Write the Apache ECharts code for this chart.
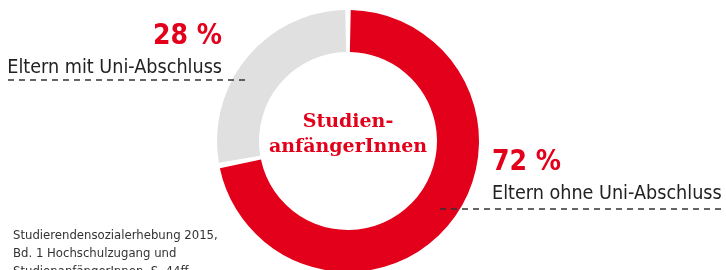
<!DOCTYPE html>
<html>
<head>
<meta charset="utf-8">
<script src="https://cdn.jsdelivr.net/npm/echarts@6/dist/echarts.min.js"></script>
<style>
  html, body { margin: 0; padding: 0; background: #fff; }
  #main { width: 726px; height: 270px; }
</style>
</head>
<body>
<div id="main"></div>
<script>
var names = ['Eltern ohne Uni-Abschluss', 'Eltern mit Uni-Abschluss'];
var values = [72, 28];
var colors = ['#e2001a', '#e0e0e0'];
var centerLines = ['Studien-', 'anfängerInnen'];
var sourceLines = ['Studierendensozialerhebung 2015,', 'Bd. 1 Hochschulzugang und', 'StudienanfängerInnen, S. 44ff.'];

var narrow = "'DejaVu Sans Condensed', 'Liberation Sans Narrow', sans-serif";

// label spot per slice: x, y, align
var labelSpots = [
  [492, 146, 'left'],
  [222, 20, 'right']
];

var myChart = echarts.init(document.getElementById('main'));

function dash(x1, x2, y) {
  return {
    type: 'line',
    z: 100,
    shape: { x1: x1, y1: y, x2: x2, y2: y },
    style: { stroke: '#333', lineWidth: 1.3, lineDash: [6, 5] }
  };
}

var option = {
  animation: false,
  title: [
    {
      text: centerLines.join('\n'),
      left: 343,
      top: 105,
      textAlign: 'center',
      textStyle: {
        fontFamily: "'DejaVu Serif', serif",
        fontWeight: 'bold',
        fontSize: 19,
        lineHeight: 25,
        color: '#e2001a'
      }
    },
    {
      text: sourceLines.join('\n'),
      left: 8,
      top: 222,
      textStyle: {
        fontFamily: narrow,
        fontWeight: 'normal',
        fontSize: 13,
        lineHeight: 18,
        color: '#333'
      }
    }
  ],
  graphic: [dash(440, 726, 209), dash(8, 250, 80)],
  series: [
    {
      type: 'pie',
      center: [348, 141],
      radius: [89, 131],
      startAngle: 90,
      clockwise: true,
      padAngle: 2.4,
      silent: true,
      data: names.map(function (n, i) {
        return { name: n, value: values[i], itemStyle: { color: colors[i] } };
      }),
      label: {
        show: true,
        position: 'outside',
        overflow: 'none',
        formatter: function (p) {
          return '{v|' + p.value + ' %}\n{n|' + p.name + '}';
        },
        rich: {
          v: {
            fontFamily: narrow,
            fontWeight: 'bold',
            fontSize: 28,
            lineHeight: 34,
            color: '#e2001a'
          },
          n: {
            fontFamily: narrow,
            fontSize: 19.6,
            lineHeight: 28,
            color: '#222'
          }
        }
      },
      labelLine: { show: false },
      labelLayout: function (params) {
        var s = labelSpots[params.dataIndex];
        return {
          x: s[0],
          y: s[1],
          align: s[2],
          verticalAlign: 'top',
          width: 260
        };
      }
    }
  ]
};

myChart.setOption(option);
</script>
</body>
</html>
